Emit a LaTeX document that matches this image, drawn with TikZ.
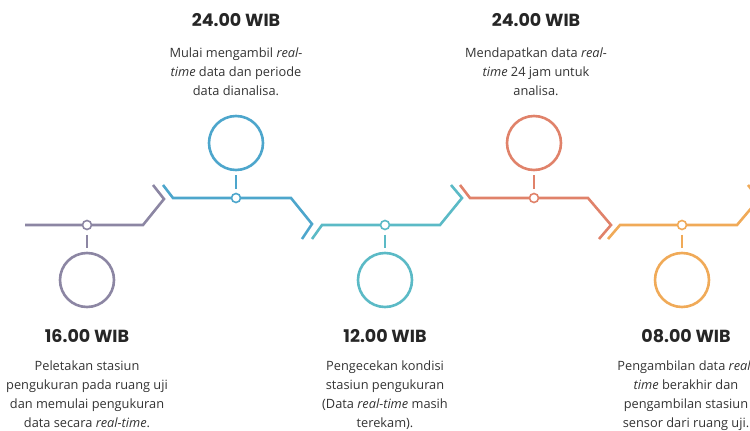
\documentclass[tikz,border=0pt]{standalone}
\usepackage{fontspec}
\setmainfont{Open Sans}
\newfontfamily\headfont{Poppins}
\definecolor{cgray}{HTML}{8C86A3}
\definecolor{cblue}{HTML}{4DA6CC}
\definecolor{cteal}{HTML}{5BBAC6}
\definecolor{cred}{HTML}{E0826A}
\definecolor{corange}{HTML}{F0AA58}
\definecolor{ctext}{HTML}{333333}
\begin{document}
\begin{tikzpicture}[x=1pt,y=-1pt,
  track/.style={line width=2.6pt, line cap=butt, line join=miter},
  ring/.style={circle, draw, line width=2.6pt, minimum size=54pt, inner sep=0pt, outer sep=0pt},
  dot/.style={circle, fill=white, line width=1.6pt, minimum size=9pt, inner sep=0pt, outer sep=0pt},
  stem/.style={line width=2.6pt, shorten <=5pt, shorten >=5pt},
  head/.style={font=\headfont\bfseries\fontsize{17.5}{20}\selectfont, text=black!85, inner sep=0pt},
  body/.style={font=\fontsize{12.8}{18.8}\selectfont, text=ctext, align=center, inner sep=0pt}]
\useasboundingbox (0,0) rectangle (750,431);
\clip (0,0) rectangle (750,431);

% gray
\coordinate (g0) at (25,225); \coordinate (g1) at (143,225);
\coordinate (g2) at (164,199); \coordinate (g3) at (153,185);
\draw[track, cgray] (g0) -- (g1) -- (g2) -- (g3);
\node[dot, draw=cgray] (gd) at (87,225) {};
\node[ring, draw=cgray] (gc) at (87,280) {};
\draw[stem, cgray] (gd) -- (gc);

% blue
\coordinate (b0) at (163,185); \coordinate (b1) at (173,198);
\coordinate (b2) at (291,198); \coordinate (b3) at (312,224); \coordinate (b4) at (302,239);
\draw[track, cblue] (b0) -- (b1) -- (b2) -- (b3) -- (b4);
\node[dot, draw=cblue] (bd) at (236,198) {};
\node[ring, draw=cblue] (bc) at (236,143) {};
\draw[stem, cblue] (bd) -- (bc);

% teal
\coordinate (t0) at (312,239); \coordinate (t1) at (322,225);
\coordinate (t2) at (440,225); \coordinate (t3) at (462,198); \coordinate (t4) at (451,185);
\draw[track, cteal] (t0) -- (t1) -- (t2) -- (t3) -- (t4);
\node[dot, draw=cteal] (td) at (385,225) {};
\node[ring, draw=cteal] (tc) at (385,280) {};
\draw[stem, cteal] (td) -- (tc);

% red
\coordinate (r0) at (460,185); \coordinate (r1) at (470,198);
\coordinate (r2) at (588,198); \coordinate (r3) at (611,225); \coordinate (r4) at (599,239);
\draw[track, cred] (r0) -- (r1) -- (r2) -- (r3) -- (r4);
\node[dot, draw=cred] (rd) at (534,198) {};
\node[ring, draw=cred] (rc) at (534,143) {};
\draw[stem, cred] (rd) -- (rc);

% orange
\coordinate (o0) at (608,239); \coordinate (o1) at (620,225);
\coordinate (o2) at (737,225); \coordinate (o3) at (759,199); \coordinate (o4) at (748,185);
\draw[track, corange] (o0) -- (o1) -- (o2) -- (o3) -- (o4);
\node[dot, draw=corange] (od) at (682,225) {};
\node[ring, draw=corange] (oc) at (682,280) {};
\draw[stem, corange] (od) -- (oc);

% texts
\node[head] (h1) at (236,20) {24.00 WIB};
\node[body, anchor=north] (x1) at (236,48) {Mulai mengambil \textit{real-}\\\textit{time} data dan periode\\data dianalisa.};
\node[head] (h2) at (536,20) {24.00 WIB};
\node[body, anchor=north] (x2) at (536,48) {Mendapatkan data \textit{real-}\\\textit{time} 24 jam untuk\\analisa.};
\node[head] (h3) at (87,336) {16.00 WIB};
\node[body, anchor=north] (x3) at (87,361) {Peletakan stasiun\\pengukuran pada ruang uji\\dan memulai pengukuran\\data secara \textit{real-time}.};
\node[head] (h4) at (385,336) {12.00 WIB};
\node[body, anchor=north] (x4) at (385,361) {Pengecekan kondisi\\stasiun pengukuran\\(Data \textit{real-time} masih\\terekam).};
\node[head] (h5) at (686,336) {08.00 WIB};
\node[body, anchor=north] (x5) at (686,361) {Pengambilan data \textit{real-}\\\textit{time} berakhir dan\\pengambilan stasiun\\sensor dari ruang uji.};
\end{tikzpicture}
\end{document}
